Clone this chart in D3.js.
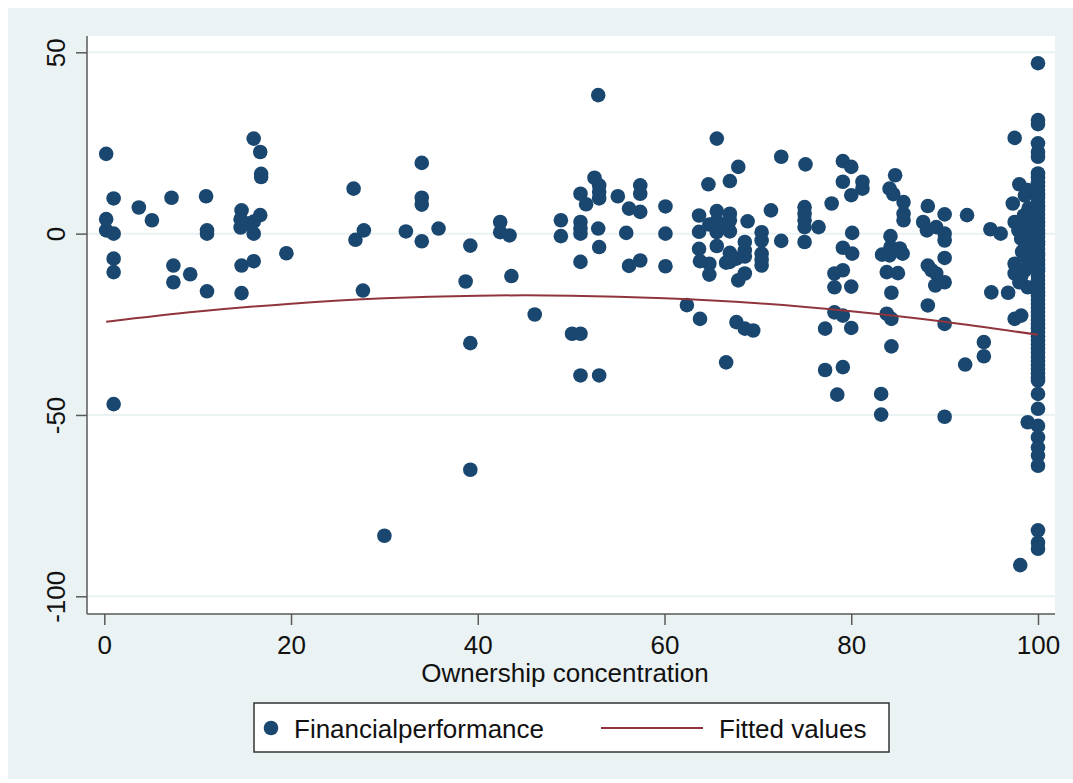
<!DOCTYPE html>
<html>
<head>
<meta charset="utf-8">
<script src="https://cdn.jsdelivr.net/npm/d3@7"></script>
<style>
html,body{margin:0;padding:0;background:#ffffff;}
svg{display:block;font-family:"Liberation Sans",Arial,Helvetica,sans-serif;}
</style>
</head>
<body>
<svg id="chart" width="1073" height="783"></svg>
<script>
// ---------------- DATA ----------------
const xTicks = [0, 20, 40, 60, 80, 100];
const yTicks = [-100, -50, 0, 50];
const xTitle = "Ownership concentration";
const legendLabels = ["Financialperformance", "Fitted values"];

const obsLow = [
  [0.2,22.0],[1.0,9.7],[0.2,4.0],[0.2,0.9],[1.0,0.0],[1.0,-6.9],[1.0,-10.6],[1.0,-47.0],
  [3.7,7.2],[5.1,3.7],[7.2,9.9],[7.4,-8.8],[7.4,-13.4],[9.2,-11.2],[10.9,10.3],[11.0,0.9],
  [11.0,0.0],[11.0,-15.9],[14.7,6.4],[14.6,4.0],[14.6,1.7],[14.7,-8.8],[14.7,-16.4],[15.4,2.8],
  [16.0,0.0],[16.0,3.3],[16.0,26.2],[16.7,22.5],[16.8,16.5],[16.8,15.6],[16.7,5.1],[16.0,-7.6],
  [19.5,-5.4]
];
const obsMid = [
  [26.7,12.4],[26.9,-1.7],[27.8,0.9],[27.7,-15.7],[30.0,-83.3],[32.3,0.6],[34.0,19.5],[34.0,9.9],
  [34.0,8.0],[34.0,-2.1],[35.8,1.4],[39.2,-3.3],[38.7,-13.2],[39.2,-30.2],[39.2,-65.1],
  [42.4,3.2],[42.4,0.4],[43.4,-0.5],[43.6,-11.7],[46.1,-22.3],[48.9,3.7],[48.9,-0.7],[50.1,-27.6],
  [51.0,-27.6],[51.0,3.2],[51.0,1.4],[51.0,0.0],[51.0,11.0],[51.6,8.1],[51.0,-7.8],[51.0,-39.1],
  [52.5,15.4],[53.0,13.3],[53.0,11.5],[53.0,9.7],[52.9,38.2],[52.9,1.4],[53.0,-3.7],[53.0,-39.1],
  [55.0,10.3],[56.2,6.9],[55.9,0.2],[56.2,-8.9],[57.4,13.3],[57.4,11.0],[57.4,6.0],[57.4,-7.4]
];
const obsHigh = [
  [60.1,7.5],[60.1,0.0],[60.1,-9.0],[62.4,-19.7],[63.7,5.0],[63.7,0.5],[63.7,-4.2],[63.8,-7.6],
  [63.8,-23.5],[64.7,13.6],[64.8,2.5],[64.8,-8.3],[64.8,-11.3],[65.6,26.2],[65.6,6.2],[65.6,3.5],
  [65.6,0.4],[65.6,-3.4],[66.1,1.8],[66.6,-8.0],[66.6,-35.5],[67.0,14.5],[67.0,5.5],[67.0,3.7],
  [66.8,2.6],[67.0,0.6],[67.0,-5.3],[67.0,-7.8],[67.7,-24.4],[67.9,18.4],[67.9,-12.9],[67.7,-6.9],
  [68.6,-2.3],[68.6,-4.6],[68.6,-6.3],[68.6,-11.0],[68.6,-26.2],[68.9,3.4],[69.5,-26.7],[70.4,0.4],
  [70.4,-1.9],[70.4,-5.5],[70.4,-7.2],[70.4,-8.8],
  [71.4,6.4],[72.5,21.2],[72.5,-2.0],[75.1,19.1],[75.0,7.3],[75.0,5.5],[75.0,3.7],[75.0,1.8],
  [75.0,-2.3],[76.5,1.8],[77.9,8.3],[77.2,-26.2],[77.2,-37.6],[78.2,-11.0],[78.2,-14.8],[78.2,-21.7],
  [78.5,-44.4],[79.1,20.0],[79.1,14.3],[79.1,-3.9],[79.1,-10.1],[79.1,-22.6],[79.1,-36.8]
];
const obsVeryHigh = [
  [80.0,18.4],[80.0,10.6],[80.1,0.2],[80.1,-5.5],[80.0,-14.6],[80.0,-26.0],[81.2,14.3],[81.2,12.4],
  [83.3,-5.8],[83.8,-10.6],[83.8,-22.1],[83.2,-44.2],[83.2,-49.9],[84.1,-6.0],[84.2,-0.7],[84.2,-3.7],
  [84.3,-16.3],[84.3,-23.5],[84.3,-31.1],[84.7,16.1],[84.1,12.4],[84.5,10.9],[85.6,8.7],[85.6,5.5],
  [85.6,3.7],[85.2,-4.1],[85.5,-5.5],[85.0,-10.9],[87.7,3.2],[88.1,0.9],[88.2,7.6],[88.2,-8.8],
  [88.6,-10.1],[88.2,-19.8],[89.1,1.8],[89.1,-11.0],[89.0,-14.3],
  [90.0,5.3],[90.0,0.0],[90.0,-1.9],[90.0,-6.7],[90.0,-13.4],[90.0,-24.9],[90.0,-50.5],[92.4,5.1],
  [92.2,-36.1],[94.2,-29.9],[94.2,-33.8],[94.9,1.2],[95.0,-16.2],[96.0,0.0],[96.8,-16.3],[97.5,26.4],
  [97.3,8.3],[98.0,13.6],[97.5,3.2],[97.9,0.9],[98.2,-1.4],[98.6,-3.7],[98.8,2.0],[98.5,5.0],
  [97.5,-8.3],[97.5,-11.0],[98.0,-13.4],[98.8,-6.5],[98.9,-14.8],[98.6,-10.1],[97.5,-23.5],[98.2,-22.6],
  [98.9,-52.0],[98.1,-91.4],
  [98.6,10.5],[99.0,7.0],[98.3,-5.0],[99.0,-8.5],[98.2,-11.8],[99.0,-1.0],[98.9,12.0],[99.1,3.5]
];
// Performance of firms with 100% ownership concentration
const fullOwnership = 100;
const perfAtFull = [
  47.0,31.3,30.2,24.9,22.5,21.2,16.6,15.5,14.2,13.1,12.0,10.8,9.9,8.7,7.5,6.6,5.4,4.3,3.1,2.2,
  1.0,0.0,-0.9,-2.1,-3.0,-4.2,-5.3,-6.1,-7.4,-8.5,-9.6,-10.4,-11.7,-12.8,-13.9,-15.0,-16.2,-17.1,
  -18.3,-19.4,-20.5,-21.6,-22.7,-23.8,-25.0,-26.1,-27.2,-28.3,-29.5,-30.6,-31.7,-32.8,-34.0,-35.1,
  -36.2,-37.3,-38.5,-39.6,-40.5,-44.2,-48.3,-53.0,-56.2,-59.0,-61.2,-64.0,-81.8,-85.2,-86.9
];
// Fitted values (quadratic fit)
const fittedX = [0.2, 10, 20, 30, 40, 50, 60, 70, 80, 90, 100];
const fittedY = [-24.3, -21.5, -19.3, -17.8, -17.1, -17.1, -17.8, -19.2, -21.4, -24.3, -27.9];

// ---------------- CHART ----------------
const svg = d3.select("#chart");
const W = 1073;
const plot = {left: 87, top: 36, right: 1055, bottom: 614};
const dotColor = "#1a476f", lineColor = "#90353b", axisColor = "#5a5a5a", bgColor = "#eaf2f3";
const fontSize = 26;
const fmt = d => String(d);

const x = d3.scaleLinear().domain([0, 100]).range([104.3, 1038]);
const y = d3.scaleLinear().domain([-100, 50]).range([596.3, 52.3]);

svg.append("rect").attr("x", 8).attr("y", 8).attr("width", W - 8).attr("height", 771).attr("fill", bgColor);
svg.append("rect").attr("x", plot.left).attr("y", plot.top)
  .attr("width", plot.right - plot.left).attr("height", plot.bottom - plot.top).attr("fill", "#ffffff");

// gridlines
svg.append("g").selectAll("line").data(yTicks).join("line")
  .attr("x1", plot.left).attr("x2", plot.right)
  .attr("y1", d => y(d)).attr("y2", d => y(d))
  .attr("stroke", bgColor).attr("stroke-width", 2);

// points
const allObs = obsLow.concat(obsMid, obsHigh, obsVeryHigh, perfAtFull.map(v => [fullOwnership, v]));
svg.append("g").selectAll("circle").data(allObs).join("circle")
  .attr("cx", d => x(d[0])).attr("cy", d => y(d[1])).attr("r", 7.3).attr("fill", dotColor);

// fitted line
const fitted = fittedX.map((v, i) => [v, fittedY[i]]);
svg.append("path").datum(fitted)
  .attr("d", d3.line().x(d => x(d[0])).y(d => y(d[1])).curve(d3.curveNatural))
  .attr("fill", "none").attr("stroke", lineColor).attr("stroke-width", 2);

// Y axis
const gy = svg.append("g").attr("transform", `translate(${plot.left},0)`)
  .call(d3.axisLeft(y).tickValues(yTicks).tickSize(11).tickSizeOuter(0).tickFormat(fmt));
gy.select(".domain").remove();
gy.selectAll(".tick line").attr("stroke", axisColor).attr("stroke-width", 1.5);
gy.selectAll(".tick text")
  .attr("transform", "rotate(-90)").attr("x", 0).attr("y", -22).attr("dy", 0)
  .attr("text-anchor", "middle").attr("fill", "#111").style("font-size", fontSize + "px")
  .style("font-family", "'Liberation Sans', Arial, sans-serif");
svg.append("line").attr("x1", plot.left).attr("x2", plot.left).attr("y1", plot.top).attr("y2", plot.bottom)
  .attr("stroke", axisColor).attr("stroke-width", 1.5);

// X axis
const gx = svg.append("g").attr("transform", `translate(0,${plot.bottom})`)
  .call(d3.axisBottom(x).tickValues(xTicks).tickSize(11).tickSizeOuter(0).tickFormat(fmt));
gx.select(".domain").remove();
gx.selectAll(".tick line").attr("stroke", axisColor).attr("stroke-width", 1.5);
gx.selectAll(".tick text").attr("y", 40).attr("dy", 0).attr("fill", "#111")
  .style("font-size", fontSize + "px").style("font-family", "'Liberation Sans', Arial, sans-serif");
svg.append("line").attr("x1", plot.left).attr("x2", plot.right).attr("y1", plot.bottom).attr("y2", plot.bottom)
  .attr("stroke", axisColor).attr("stroke-width", 1.5);

svg.append("text").attr("x", 565).attr("y", 682).attr("text-anchor", "middle")
  .attr("fill", "#111").style("font-size", fontSize + "px").text(xTitle);

// Legend
const lg = svg.append("g");
lg.append("rect").attr("x", 254).attr("y", 703).attr("width", 635).attr("height", 49)
  .attr("fill", "#ffffff").attr("stroke", "#333").attr("stroke-width", 1.5);
lg.append("circle").attr("cx", 271).attr("cy", 728).attr("r", 7.3).attr("fill", dotColor);
lg.append("text").attr("x", 294).attr("y", 738).attr("fill", "#111").style("font-size", fontSize + "px").text(legendLabels[0]);
lg.append("line").attr("x1", 601).attr("x2", 703).attr("y1", 728).attr("y2", 728)
  .attr("stroke", lineColor).attr("stroke-width", 2);
lg.append("text").attr("x", 719).attr("y", 738).attr("fill", "#111").style("font-size", fontSize + "px").text(legendLabels[1]);
</script>
</body>
</html>
